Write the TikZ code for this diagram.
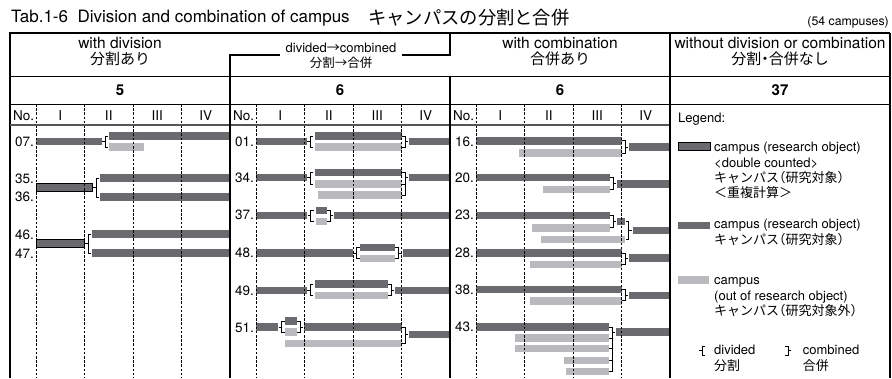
\documentclass[tikz,border=0pt]{standalone}
\usepackage{fontspec}
\setmainfont{TeX Gyre Heros}
\newfontfamily\jp{Noto Sans CJK JP}
\newfontfamily\jph[RawFeature=+halt]{Noto Sans CJK JP}

\definecolor{bardark}{HTML}{6A6A6F}
\definecolor{barlight}{HTML}{BABABE}
\definecolor{rulegray}{HTML}{555555}

\tikzset{
  darkbar/.style={fill=bardark},
  lightbar/.style={fill=barlight},
  dblbar/.style={fill=bardark, draw=black, line width=0.9pt},
  brk/.style={line width=0.8pt},
  colsep/.style={dash pattern=on 2.6pt off 1.6pt, line width=0.8pt},
  frame/.style={line width=1.9pt},
  rule/.style={line width=0.9pt},
  panelsep/.style={line width=1.1pt},
  ttl/.style={inner sep=0pt, anchor=west, font=\fontsize{17}{19}\selectfont},
  ttljp/.style={inner sep=0pt, anchor=west, font=\jp\fontsize{18.3}{20}\selectfont},
  note/.style={inner sep=0pt, anchor=east, font=\fontsize{12.3}{14}\selectfont},
  hdr/.style={inner sep=0pt, font=\fontsize{15.5}{17}\selectfont},
  hdrjp/.style={inner sep=0pt, font=\jph\fontsize{15}{17}\selectfont},
  sub/.style={inner sep=0pt, font=\fontsize{13}{15}\selectfont},
  subjp/.style={inner sep=0pt, font=\jp\fontsize{12.5}{14}\selectfont},
  count/.style={inner sep=0pt, font=\bfseries\fontsize{15}{17}\selectfont},
  colhead/.style={inner sep=0pt, font=\fontsize{13.5}{15}\selectfont},
  rowlab/.style={inner sep=0pt, anchor=east, font=\fontsize{13.5}{15}\selectfont},
  lgd/.style={inner sep=0pt, anchor=base west, font=\fontsize{13}{15}\selectfont},
  lgdjp/.style={inner sep=0pt, anchor=base west, font=\jph\fontsize{13}{15}\selectfont},
}

\newcommand{\cbar}[4][darkbar]{\fill[#1] (#2,#4-3.7) rectangle (#3,#4+3.7);}
\newcommand{\splitbr}[4]{\draw[brk] (#1-3,#4) -- (#1,#4) (#1+3,#2) -- (#1,#2) -- (#1,#3) -- (#1+3,#3);}
\newcommand{\mergebr}[4]{\draw[brk] (#1-3,#2) -- (#1,#2) -- (#1,#3) -- (#1-3,#3) (#1,#4) -- (#1+3,#4);}

\begin{document}
\begin{tikzpicture}[x=1pt,y=-1pt]
  \useasboundingbox (0,0) rectangle (892,378);

  \node[ttl] (title) at (11,18) {Tab.1-6\ \ Division and combination of campus};
  \node[ttljp] (titlejp) at (368,18) {キャンパスの分割と合併};
  \node[note] (total) at (889,22.5) {(54 campuses)};

  \node[hdr] (hdiv) at (120,43) {with division};
  \node[hdrjp] (hdivjp) at (120,58.5) {分割あり};
  \node[sub] (hdc) at (341,48) {divided{\jp →}combined};
  \node[subjp] (hdcjp) at (341,63) {分割→合併};
  \node[hdr] (hcom) at (560,43) {with combination};
  \node[hdrjp] (hcomjp) at (560,58.5) {合併あり};
  \node[hdr] (hnone) at (780,43) {without division or combination};
  \node[hdrjp] (hnonejp) at (780,58.5) {分割・合併なし};

  \foreach \cx/\n in {120/5, 340/6, 560/6, 780/37}
    \node[count] (n\cx) at (\cx,90.5) {\n};

  % bars: with division
  \node[rowlab] (r07) at (34,141.5) {07.};
  \cbar{36}{102}{141.5}
  \splitbr{105}{136}{147}{141.5}
  \cbar{109}{230}{136}
  \cbar[lightbar]{109}{144}{147}

  \node[rowlab] (r35) at (34,178.5) {35.};
  \node[rowlab] (r36) at (34,197) {36.};
  \cbar[dblbar]{36}{92}{187.5}
  \splitbr{96}{178}{197}{187.5}
  \cbar{100}{230}{178}
  \cbar{100}{230}{197}

  \node[rowlab] (r46) at (34,235) {46.};
  \node[rowlab] (r47) at (34,254) {47.};
  \cbar[dblbar]{36}{84}{243.5}
  \splitbr{88}{234}{253}{243.5}
  \cbar{92}{230}{234}
  \cbar{92}{230}{253}

  % bars: divided -> combined
  \node[rowlab] (r01) at (254,141.5) {01.};
  \cbar{256}{306.7}{141.5}
  \splitbr{310}{136}{147}{141.5}
  \cbar{315}{401.7}{136}
  \cbar[lightbar]{315}{401.7}{147}
  \mergebr{405}{136}{147}{141.5}
  \cbar{409}{450}{141.5}

  \node[rowlab] (r34) at (254,178) {34.};
  \cbar{256}{306.7}{177.5}
  \splitbr{310}{172.7}{184}{177.5}
  \cbar{315}{401.7}{172.7}
  \cbar[lightbar]{315}{401.7}{184}
  \cbar[lightbar]{318.3}{401.7}{195}
  \mergebr{405}{172.7}{195}{177.5}
  \draw[brk] (402,184) -- (405,184);
  \cbar{409}{450}{177.5}

  \node[rowlab] (r37) at (254,214.5) {37.};
  \cbar{256}{307}{215.7}
  \splitbr{310.5}{210.3}{221.3}{215.7}
  \cbar{315.7}{326.7}{210.3}
  \cbar[lightbar]{315.7}{326.7}{221.3}
  \mergebr{330}{210.3}{221.3}{215.7}
  \cbar{334}{450}{215.7}

  \node[rowlab] (r48) at (254,253) {48.};
  \cbar{256}{353.3}{253}
  \splitbr{356.7}{247.5}{258.5}{253}
  \cbar{360}{395}{247.5}
  \cbar[lightbar]{360}{395}{258.5}
  \mergebr{398.3}{247.5}{258.5}{253}
  \cbar{402.7}{450}{253}

  \node[rowlab] (r49) at (254,291) {49.};
  \cbar{256}{306.7}{290.3}
  \splitbr{310}{284}{295.5}{290.3}
  \cbar{315}{388.3}{284}
  \cbar[lightbar]{315}{388.3}{295.5}
  \mergebr{391.3}{284}{295.5}{290.3}
  \cbar{395}{450}{290.3}

  \node[rowlab] (r51) at (254,328) {51.};
  \cbar{256}{278.3}{327}
  \splitbr{281.7}{321}{332}{327}
  \cbar{285}{296.7}{321}
  \cbar[lightbar]{285}{296.7}{332}
  \mergebr{300}{321}{332}{327}
  \cbar{304.3}{401.7}{327}
  \cbar[lightbar]{285}{401.7}{343.7}
  \mergebr{405}{327}{343.7}{334.7}
  \cbar{409.3}{450}{334.7}

  % bars: with combination
  \node[rowlab] (r16) at (474,141.5) {16.};
  \cbar{476}{621.7}{140.8}
  \cbar[lightbar]{519}{621.7}{153}
  \mergebr{625}{140.8}{153}{147}
  \cbar{629.3}{670}{147}

  \node[rowlab] (r20) at (474,178) {20.};
  \cbar{476}{610}{177.5}
  \cbar[lightbar]{543.3}{610}{189.5}
  \mergebr{613.3}{177.5}{189.5}{183.8}
  \cbar{616.7}{670}{183.8}

  \node[rowlab] (r23) at (474,215) {23.};
  \cbar{476}{610}{215.7}
  \cbar[lightbar]{532.3}{610}{227.8}
  \mergebr{613.3}{215.7}{227.8}{221.7}
  \cbar{617}{625}{221.7}
  \cbar[lightbar]{540.7}{625}{239.2}
  \mergebr{628.5}{221.7}{239.2}{230.3}
  \cbar{632.5}{670}{230.3}

  \node[rowlab] (r28) at (474,253) {28.};
  \cbar{476}{621.7}{253}
  \cbar[lightbar]{530}{621.7}{264.2}
  \mergebr{625}{253}{264.2}{258}
  \cbar{629.3}{670}{258}

  \node[rowlab] (r38) at (474,290) {38.};
  \cbar{476}{621.7}{289.7}
  \cbar[lightbar]{530}{621.7}{300.8}
  \mergebr{625}{289.7}{300.8}{295.5}
  \cbar{629.3}{670}{295.5}

  \node[rowlab] (r43) at (474,327) {43.};
  \cbar{476}{609}{327}
  \cbar[lightbar]{515}{609}{338}
  \cbar[lightbar]{515}{609}{348.7}
  \cbar[lightbar]{564}{609}{360.5}
  \cbar[lightbar]{566}{609}{371.3}
  \mergebr{612}{327}{371.3}{332}
  \foreach \yy in {338,348.7,360.5}
    \draw[brk] (609,\yy) -- (612,\yy);
  \cbar{616}{670}{332}

  % grid of periods
  \foreach \p in {10,230,450} {
    \foreach \k in {0,...,3}
      \draw[colsep] (\p+26+48.5*\k,104) -- (\p+26+48.5*\k,378);
    \node[colhead, anchor=west] (no\p) at (\p+3,116) {No.};
    \foreach \r [count=\k from 0] in {I,II,III,IV}
      \node[colhead] (c\p\k) at (\p+50.25+48.5*\k,116) {\r};
  }

  \draw[frame] (10,378) -- (10,33) -- (890,33);
  \draw[panelsep] (890,33) -- (890,378);
  \draw[rule] (10,76) -- (890,76) (10,104) -- (890,104);
  \draw[rule, rulegray, line width=1.6pt] (10,125) -- (670,125);
  \draw[panelsep] (230,378) -- (230,55) -- (280,55) (402,55) -- (450,55) -- (450,33)
    (450,76) -- (450,378) (670,33) -- (670,378);

  % legend
  \node[lgd] (legend) at (678,122) {Legend:};
  \cbar[dblbar]{678}{710}{146.5}
  \node[lgd] (l1a) at (714,151.2) {campus (research object)};
  \node[lgd] (l1b) at (714,167.2) {<double counted>};
  \node[lgdjp] (l1c) at (714,182.2) {キャンパス（研究対象）};
  \node[lgdjp] (l1d) at (714,197.2) {{\jp ＜重複計算＞}};
  \cbar{678}{710}{225.5}
  \node[lgd] (l2a) at (714,228.8) {campus (research object)};
  \node[lgdjp] (l2b) at (714,244) {キャンパス（研究対象）};
  \cbar[lightbar]{678}{709.3}{280}
  \node[lgd] (l3a) at (714,284.5) {campus};
  \node[lgd] (l3b) at (714,300.5) {(out of research object)};
  \node[lgdjp] (l3c) at (714,315.2) {キャンパス（研究対象外）};
  \draw[brk] (699,350.5) -- (702,350.5) (705,346) -- (702,346) -- (702,355) -- (705,355);
  \node[lgd] (ldiv) at (714,354.5) {divided};
  \node[lgdjp] (ldivjp) at (714,370.5) {分割};
  \draw[brk] (785,346) -- (788,346) -- (788,355) -- (785,355) (788,350.5) -- (791,350.5);
  \node[lgd] (lcom) at (802.7,354.5) {combined};
  \node[lgdjp] (lcomjp) at (802.7,370.5) {合併};
\end{tikzpicture}
\end{document}
